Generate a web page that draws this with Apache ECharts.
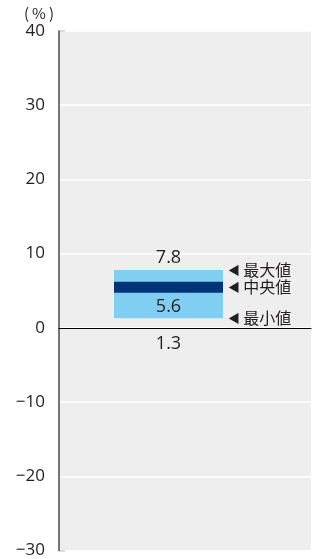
<!DOCTYPE html>
<html>
<head>
<meta charset="utf-8">
<script src="https://cdn.jsdelivr.net/npm/echarts@6/dist/echarts.min.js"></script>
<style>
  html, body { margin: 0; padding: 0; background: #fff; }
  #chart { width: 320px; height: 559px; }
</style>
</head>
<body>
<div id="chart"></div>
<script>
  // 値
  const categories = ['全体'];
  const minValues = [1.3];
  const medianValues = [5.6];
  const maxValues = [7.8];
  const markerLabels = ['最大値', '中央値', '最小値'];
  const yMin = -30, yMax = 40, yStep = 10;

  const textColor = '#231f20';
  const numFont = 'Open Sans';
  const jpFont = 'Noto Sans CJK JP';

  const chart = echarts.init(document.getElementById('chart'));

  const seriesData = categories.map((c, i) => [i, minValues[i], medianValues[i], maxValues[i]]);

  function renderBox(params, api) {
    const idx = api.value(0);
    const lo = api.coord([idx, api.value(1)]);
    const md = api.coord([idx, api.value(2)]);
    const hi = api.coord([idx, api.value(3)]);
    const cx = lo[0] - 16.5;   // 箱は少し左寄り
    const w = 109;
    const x0 = cx - w / 2;
    const annX = x0 + w + 5;
    const ann = (y, s) => ({
      type: 'text',
      style: {
        x: annX, y: y, text: '{t|◀} {s|' + s + '}',
        rich: {
          t: { fontSize: 12, fontFamily: jpFont, fill: textColor },
          s: { fontSize: 16, fontFamily: jpFont, fill: textColor }
        },
        fill: textColor, verticalAlign: 'middle'
      }
    });
    const num = (y, v) => ({
      type: 'text',
      style: { x: cx, y: y, text: v.toFixed(1), fontSize: 18, fontFamily: numFont, fill: textColor, align: 'center', verticalAlign: 'middle' }
    });
    return {
      type: 'group',
      children: [
        { type: 'rect', shape: { x: x0, y: hi[1], width: w, height: lo[1] - hi[1] }, style: { fill: '#80cff3' } },
        { type: 'rect', shape: { x: x0, y: md[1] - 4.5, width: w, height: 11 }, style: { fill: '#003479' } },
        num(hi[1] - 12, api.value(3)),
        num(md[1] + 21, api.value(2)),
        num(lo[1] + 26, api.value(1)),
        ann(hi[1], markerLabels[0]),
        ann(md[1] + 1, markerLabels[1]),
        ann(lo[1], markerLabels[2])
      ]
    };
  }

  chart.setOption({
    animation: false,
    grid: {
      left: 59, right: 9, top: 31, bottom: 8,
      show: true, backgroundColor: '#eeeeee', borderWidth: 0
    },
    xAxis: {
      type: 'category',
      data: categories,
      axisLine: { show: true, onZero: true, lineStyle: { color: '#000', width: 1 } },
      axisTick: { show: false },
      axisLabel: { show: false },
      splitLine: { show: false }
    },
    yAxis: {
      type: 'value',
      min: yMin, max: yMax, interval: yStep,
      axisLine: { show: true, lineStyle: { color: '#4f4848', width: 1.5 } },
      axisTick: { show: false },
      axisLabel: {
        margin: 14, fontSize: 17, color: textColor, fontFamily: numFont,
        formatter: v => String(v).replace('-', '−')
      },
      splitLine: { show: true, lineStyle: { color: '#ffffff', width: 1.5 } }
    },
    graphic: [
      { type: 'text', left: 24, top: 6, style: { text: '(\u2009%\u2009)', fontSize: 15, fontFamily: jpFont, fill: textColor } },
      { type: 'line', shape: { x1: 59, y1: 31, x2: 65, y2: 31 }, style: { stroke: '#4f4848', lineWidth: 1.5 } },
      { type: 'line', shape: { x1: 59, y1: 551, x2: 65, y2: 551 }, style: { stroke: '#4f4848', lineWidth: 1.5 } }
    ],
    series: [{
      type: 'custom',
      renderItem: renderBox,
      data: seriesData,
      encode: { x: 0, y: [1, 2, 3] },
      clip: false
    }]
  });
</script>
</body>
</html>
